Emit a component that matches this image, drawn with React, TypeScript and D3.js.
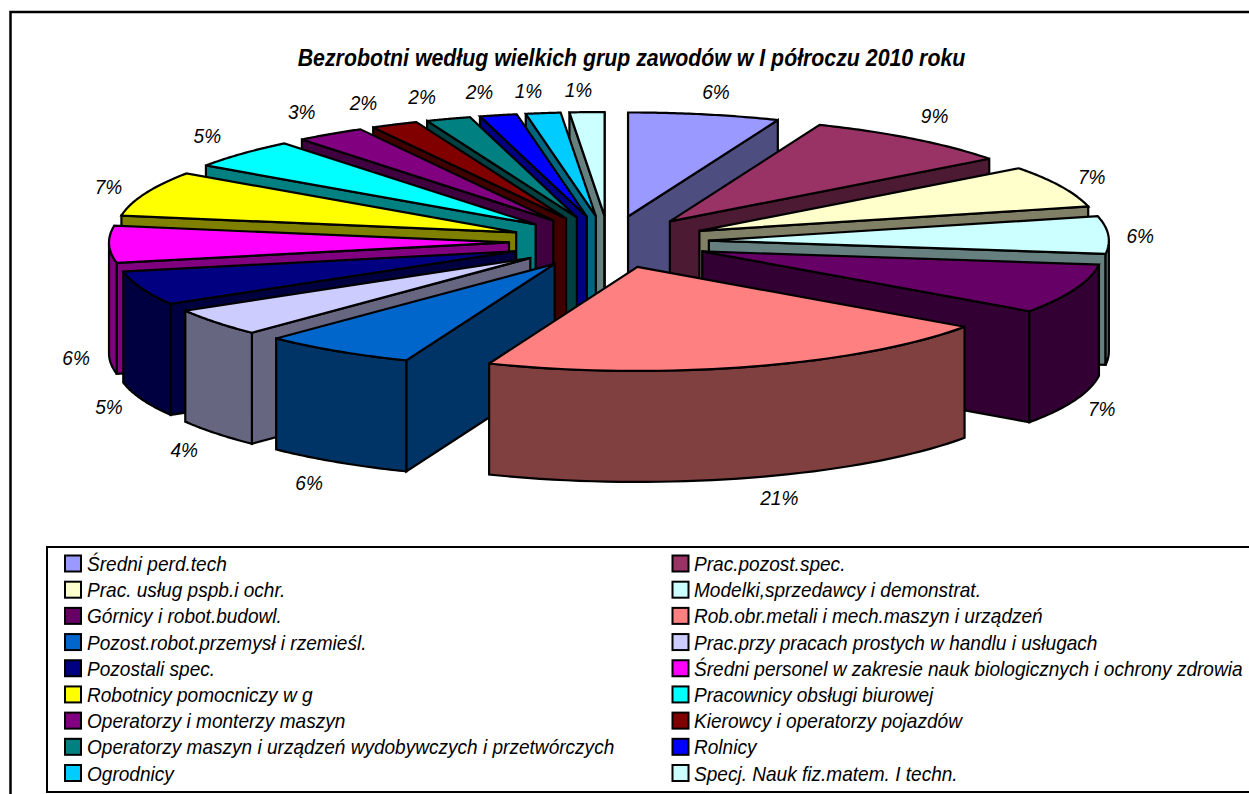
import React from "react";
import * as d3 from "d3";

const title = "Bezrobotni według wielkich grup zawodów w I półroczu 2010 roku";
const categories = [
  "Średni perd.tech", "Prac.pozost.spec.", "Prac. usług pspb.i ochr.", "Modelki,sprzedawcy i demonstrat.",
  "Górnicy i robot.budowl.", "Rob.obr.metali i mech.maszyn i urządzeń", "Pozost.robot.przemysł i rzemieśl.",
  "Prac.przy pracach prostych w handlu i usługach", "Pozostali spec.",
  "Średni personel w zakresie nauk biologicznych i ochrony zdrowia", "Robotnicy pomocniczy w g",
  "Pracownicy obsługi biurowej", "Operatorzy i monterzy maszyn", "Kierowcy i operatorzy pojazdów",
  "Operatorzy maszyn i urządzeń wydobywczych i przetwórczych", "Rolnicy", "Ogrodnicy", "Specj. Nauk fiz.matem. I techn.",
];
const values = [6.1, 8.6, 6.5, 5.8, 7.72, 21.26, 6.2, 4.3, 5.3, 5.7, 7.0, 4.6, 2.8, 1.9, 1.8, 1.5, 1.4, 1.4];
const percentLabels = [6, 9, 7, 6, 7, 21, 6, 4, 5, 6, 7, 5, 3, 2, 2, 2, 1, 1];
const colors = [
  "#9999FF", "#993366", "#FFFFCC", "#CCFFFF", "#660066", "#FF8080", "#0066CC", "#CCCCFF", "#000080",
  "#FF00FF", "#FFFF00", "#00FFFF", "#800080", "#800000", "#008080", "#0000FF", "#00CCFF", "#CCFFFF",
];

const FONT = "'Liberation Sans', Arial, sans-serif";
const W = 1249, H = 794;
const cx = 609, cy = 242, rx = 400, ry = 104, depth = 111, labelDepth = 108, explode = 0.25;
const SX = 0.93;
const labelNudgeX = [5, 0, -1, -3, -6, 18, -9, -4, 0, 2, -4, -9, -9, -16, -15, -11, -10, -7];
const labelNudgeY = [3, -3, 1, 2, 2, -2, 2, 3, 1, 5, 3, -1, -1, 1, 2, 2, 3, 3];

const px = d3.scaleLinear().domain([-1, 1]).range([cx - rx, cx + rx]);
const py = d3.scaleLinear().domain([-1, 1]).range([cy - ry, cy + ry]);
const ux = (a: number) => Math.sin(a);
const uy = (a: number) => -Math.cos(a);

const pieGen = d3.pie<number>().sort(null).startAngle(0).endAngle(2 * Math.PI);
const arcs = pieGen(values);
const line = d3.line<[number, number]>();

const half = (c: string) => {
  const r = d3.rgb(c);
  return d3.rgb(r.r / 2, r.g / 2, r.b / 2).formatHex();
};

function sliceShapes(i: number) {
  const a = arcs[i];
  const s = a.startAngle, e = a.endAngle, m = (s + e) / 2;
  const ox = explode * ux(m), oy = explode * uy(m);
  const pt = (ang: number, r: number, dz = 0): [number, number] => [
    px(ox + r * ux(ang)),
    py(oy + r * uy(ang)) + dz,
  ];
  const rim = (from: number, to: number, dz = 0) =>
    d3.range(0, 41).map((k) => pt(from + ((to - from) * k) / 40, 1, dz));
  const top = line([pt(s, 0), ...rim(s, e)]) + "Z";
  const face = (ang: number) => line([pt(ang, 0), pt(ang, 1), pt(ang, 1, depth), pt(ang, 0, depth)]) + "Z";
  const faces: string[] = [];
  if (s > Math.PI || s === 0) faces.push(face(s));
  if (e < Math.PI || Math.abs(e - 2 * Math.PI) < 1e-6) faces.push(face(e));
  let wall: string | null = null;
  const ws = Math.max(s, Math.PI / 2), we = Math.min(e, (3 * Math.PI) / 2);
  if (we > ws) wall = line([...rim(ws, we), ...rim(we, ws, depth)]) + "Z";
  const lblX = px(ox) + 435 * ux(m) + labelNudgeX[i];
  const lblY = py(oy) + 130 * uy(m) + (Math.cos(m) < 0 ? labelDepth : 0) + labelNudgeY[i];
  return { m, top, faces, wall, lblX, lblY };
}

const order = d3.range(values.length).sort((p, q) => {
  const mp = (arcs[p].startAngle + arcs[p].endAngle) / 2;
  const mq = (arcs[q].startAngle + arcs[q].endAngle) / 2;
  return Math.cos(mq) - Math.cos(mp);
});

const rowY = d3.scaleLinear().domain([0, 8]).range([563.5, 773]);

export default function App() {
  return (
    <svg width={W} height={H} viewBox={`0 0 ${W} ${H}`}
      style={{ position: "absolute", left: 0, top: 0, background: "#fff", display: "block" }}>
      <rect x={10.5} y={12} width={W + 20} height={H + 20} fill="#fff" stroke="#000" strokeWidth={2.5} />
      <text transform={`translate(631.5,66) scale(0.927,1)`} textAnchor="middle" fontFamily={FONT}
        fontStyle="italic" fontWeight="bold" fontSize={23}>{title}</text>

      {order.map((i) => {
        const sh = sliceShapes(i);
        const side = half(colors[i]);
        return (
          <g key={i} stroke="#000" strokeWidth={2.2} strokeLinejoin="miter" strokeMiterlimit={2.5}>
            {sh.faces.map((f, k) => <path key={k} d={f} fill={side} />)}
            {sh.wall && <path d={sh.wall} fill={side} />}
            <path d={sh.top} fill={colors[i]} />
          </g>
        );
      })}
      {percentLabels.map((v, i) => {
        const sh = sliceShapes(i);
        return (
          <text key={i} transform={`translate(${sh.lblX},${sh.lblY + 7.5}) scale(${SX},1)`} textAnchor="middle"
            fontFamily={FONT} fontStyle="italic" fontSize={20.5} fill="#000">{v}%</text>
        );
      })}

      <rect x={47} y={547} width={W} height={245} fill="#fff" stroke="#000" strokeWidth={2} />
      {categories.map((c, i) => {
        const row = Math.floor(i / 2), col = i % 2;
        const y = rowY(row);
        const mx = col === 0 ? 65 : 672.5;
        return (
          <g key={i}>
            <rect x={mx} y={y - 8} width={16} height={16} fill={colors[i]} stroke="#000" strokeWidth={2} />
            <text transform={`translate(${col === 0 ? 87 : 694},${y + 7.5}) scale(${SX},1)`} fontFamily={FONT}
              fontStyle="italic" fontSize={20.5} fill="#000">{c}</text>
          </g>
        );
      })}
    </svg>
  );
}
